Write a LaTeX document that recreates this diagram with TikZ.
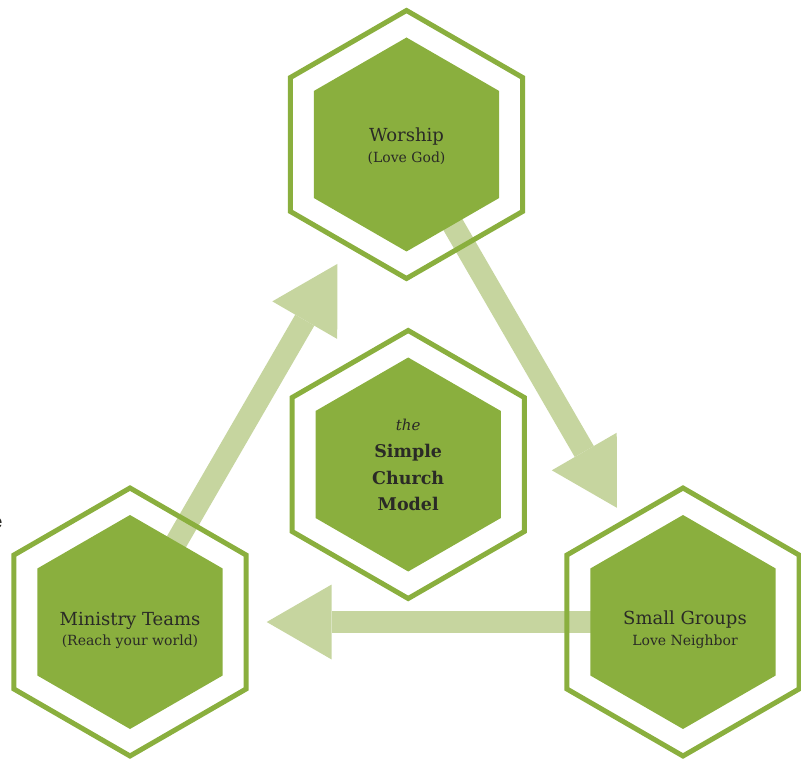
\documentclass[tikz,border=0pt]{standalone}
\usepackage{fontspec}
\setmainfont{DejaVu Serif}
\usetikzlibrary{shapes.geometric,calc}
\definecolor{hexgreen}{HTML}{8AAF3E}
\definecolor{arrowgreen}{HTML}{C6D59F}
\definecolor{txt}{HTML}{2A2A26}
\tikzset{
  hexout/.style={regular polygon, regular polygon sides=6, shape border rotate=30,
     minimum size=268pt, inner sep=0pt, outer sep=0pt, draw=hexgreen, line width=5pt},
  hexin/.style={regular polygon, regular polygon sides=6, shape border rotate=30,
     minimum size=214pt, inner sep=0pt, outer sep=0pt, fill=hexgreen, draw=none},
  lbl/.style={anchor=base, text=txt, inner sep=0pt, font=\fontsize{18}{20}\selectfont},
  sublbl/.style={anchor=base, text=txt, inner sep=0pt, font=\fontsize{14}{16}\selectfont},
  boldlbl/.style={anchor=base, text=txt, inner sep=0pt, font=\bfseries\fontsize{17.5}{20}\selectfont},
  shaft/.style={draw=arrowgreen, line width=22pt},
  head/.style={fill=arrowgreen}
}
\newcommand\bigarrow[3]{% from #1 to #2, tip at distance #3 from #2
  \coordinate (tip#1#2) at ($(#2)!#3pt!(#1)$);
  \coordinate (bc#1#2) at ($(#2)!#3pt+65pt!(#1)$);
  \draw[shaft] (#1) -- (bc#1#2);
  \fill[head] (tip#1#2) -- ($(bc#1#2)!37.5pt!90:(#2)$) -- ($(bc#1#2)!37.5pt!-90:(#2)$) -- cycle;
}
\begin{document}
\begin{tikzpicture}[x=1pt,y=-1pt]
\useasboundingbox (0,0) rectangle (801,759);
% centres
\coordinate (w) at (406.5,144.5);
\coordinate (c) at (408.2,464.5);
\coordinate (m) at (130,622);
\coordinate (s) at (683,622);
% arrows (behind)
\bigarrow{w}{s}{132}
\bigarrow{s}{m}{136.7}
\bigarrow{m}{w}{138}
% hexagons
\foreach \n in {w,c,m,s}{
  \node[hexout] (\n o) at (\n) {};
  \node[hexin] (\n i) at (\n) {};
}
% texts
\node[lbl] (wt) at (406.5,141.7) {Worship};
\node[sublbl] (ws) at (406.5,162.3) {(Love God)};
\node[anchor=base, text=txt, inner sep=0pt, font=\itshape\fontsize{15}{17}\selectfont] (ct) at (408.2,430.7) {the};
\node[boldlbl] (c1) at (408.2,457.3) {Simple};
\node[boldlbl] (c2) at (408.2,484) {Church};
\node[boldlbl] (c3) at (408.2,510.7) {Model};
\node[lbl] (mt) at (130,625) {Ministry Teams};
\node[sublbl] (ms) at (130,645) {(Reach your world)};
\node[lbl] (st) at (685,624) {Small Groups};
\node[sublbl] (ss) at (685,645) {Love Neighbor};
\node[anchor=base east, text=txt, inner sep=0pt, font=\fontsize{20}{22}\selectfont] (frag) at (3,528) {e};
\end{tikzpicture}
\end{document}
